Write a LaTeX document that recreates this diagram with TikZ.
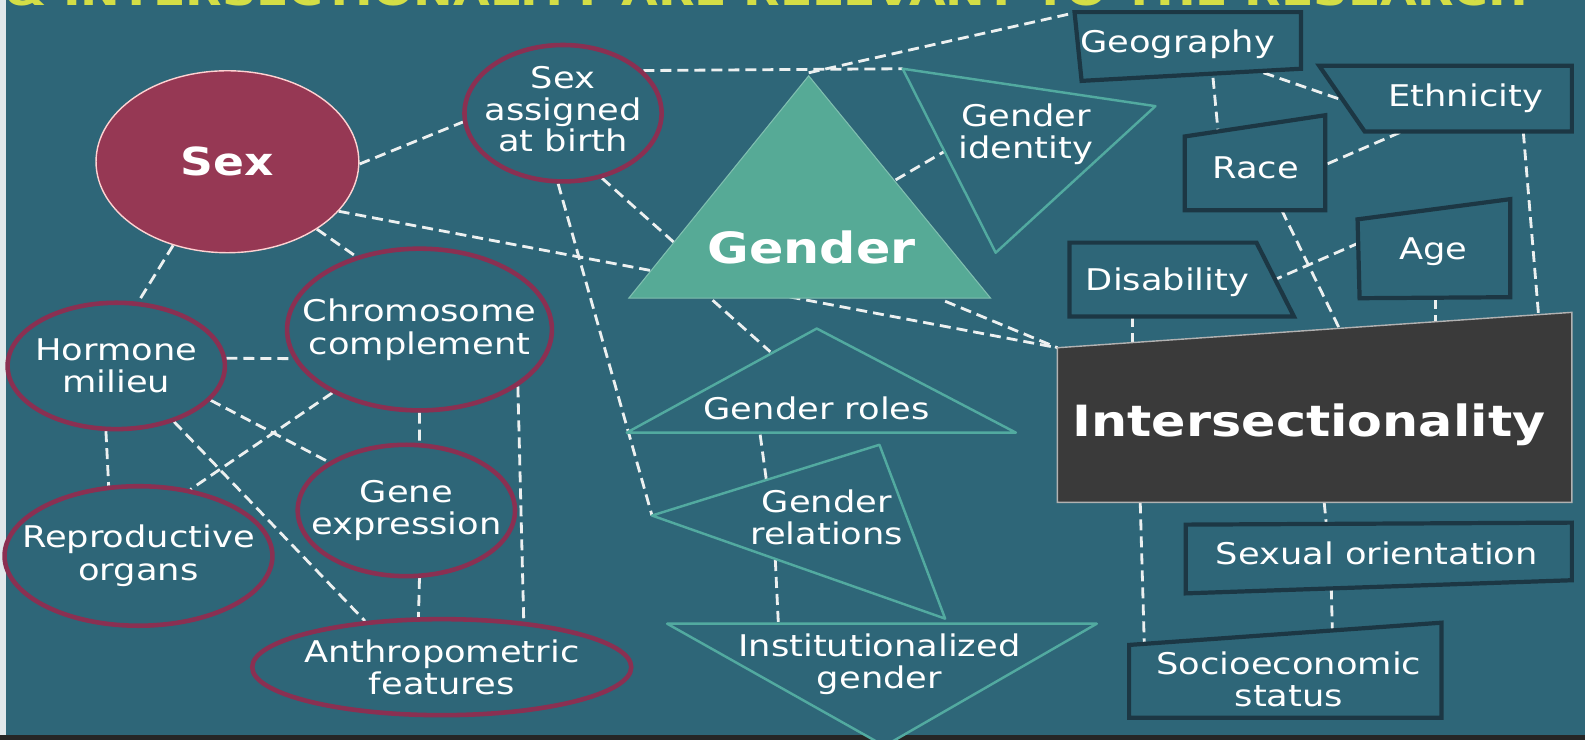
\documentclass[tikz,border=0pt]{standalone}
\usepackage{fontspec}
\setmainfont{DejaVu Sans}[FakeStretch=1.18]
\usepackage{tikz}
\usetikzlibrary{positioning, shapes.geometric}
\definecolor{slidebg}{RGB}{46,102,120}
\definecolor{sexred}{RGB}{150,56,84}
\definecolor{plum}{RGB}{138,48,82}
\definecolor{gendergreen}{RGB}{86,170,150}
\definecolor{tealline}{RGB}{82,170,160}
\definecolor{boxline}{RGB}{28,55,68}
\definecolor{interdark}{RGB}{58,58,58}
\definecolor{titleyellow}{RGB}{212,222,70}
\definecolor{dashwhite}{RGB}{236,240,240}
\pgfdeclarelayer{back}
\pgfdeclarelayer{links}
\pgfsetlayers{back,links,main}
\tikzset{%
	sex part/.style 2 args={
		ellipse,
		draw=plum,
		line width=2.6pt,
		fill=slidebg,
		inner sep=0pt,
		minimum width=#1*0.2022mm,
		minimum height=#2*0.2022mm
	},
	label text/.style={
		text=white,
		align=center,
		inner sep=0pt,
		font=\fontsize{17}{18.5}\selectfont
	},
	big text/.style={
		text=white,
		inner sep=0pt,
		font=\bfseries\fontsize{24.5}{28}\selectfont
	},
	factor box/.style={draw=boxline, line width=2.4pt, fill=slidebg, line join=miter},
	gender part/.style={draw=tealline, line width=1.4pt, fill=slidebg, line join=round},
	link/.style={draw=dashwhite, line width=1.6pt, dash pattern=on 2.2mm off 1.2mm},
}

\begin{document}
\begin{tikzpicture}[x=0.2022mm, y=-0.2022mm]
	% slide background
	\begin{pgfonlayer}{back}
		\fill[slidebg] (0,0) rectangle (1568,732);
		\fill[white!85!slidebg] (0,0) rectangle (6,732);
		\fill[black!85] (0,727) rectangle (1568,732);
	\end{pgfonlayer}
	\useasboundingbox (0,0) rectangle (1568,732);
	
	% cut title
	\node[anchor=base west, text=titleyellow, inner sep=0pt, font=\bfseries\fontsize{22.9}{26}\selectfont] (title) at (5,5) {\& INTERSECTIONALITY ARE RELEVANT TO THE RESEARCH};
	
	% Sex side
	\node[ellipse, fill=sexred, draw=pink!70, line width=0.8pt, minimum width=260*0.2022mm, minimum height=180*0.2022mm] (sex) at (225,160) {};
	\node[big text, font=\bfseries\fontsize{22}{26}\selectfont] (sex-t) at (sex) {Sex};
	\node[sex part={195}{135}] (sab) at (557,112) {};
	\node[label text, font=\fontsize{17}{18}\selectfont] (sab-t) at (557,108) {Sex\\assigned\\at birth};
	\node[sex part={215}{125}] (horm) at (115,362) {};
	\node[label text] (horm-t) at (horm) {Hormone\\milieu};
	\node[sex part={262}{160}] (chrom) at (415,326) {};
	\node[label text] (chrom-t) at (chrom) {Chromosome\\complement};
	\node[sex part={215}{130}] (gene) at (402,505) {};
	\node[label text] (gene-t) at (gene) {Gene\\expression};
	\node[sex part={265}{138}] (repro) at (137,550) {};
	\node[label text] (repro-t) at (repro) {Reproductive\\organs};
	\node[sex part={375}{95}] (anthro) at (437,660) {};
	\node[label text] (anthro-t) at (anthro) {Anthropometric\\features};
	
	% Gender side
	\coordinate (gA) at (800,75);
	\coordinate (gL) at (622,295);
	\coordinate (gR) at (980,295);
	\fill[gendergreen, draw=gendergreen!75!white, line width=0.6pt] (gA) -- (gL) -- (gR) -- cycle;
	\node[big text] (gen-t) at (803,245) {Gender};
	
	\coordinate (iA) at (893,68);
	\coordinate (iB) at (1143,105);
	\coordinate (iC) at (985,250);
	\draw[gender part] (iA) -- (iB) -- (iC) -- cycle;
	\node[label text] (ident-t) at (1015,133) {Gender\\identity};
	
	\coordinate (rA) at (808,325);
	\coordinate (rL) at (620,428);
	\coordinate (rR) at (1005,428);
	\draw[gender part] (rA) -- (rL) -- (rR) -- cycle;
	\node[label text] (roles-t) at (808,404) {Gender roles};
	
	\coordinate (lA) at (645,510);
	\coordinate (lB) at (870,440);
	\coordinate (lC) at (935,612);
	\draw[gender part] (lA) -- (lB) -- (lC) -- cycle;
	\node[label text] (rel-t) at (818,512) {Gender\\relations};
	
	\coordinate (nL) at (660,617);
	\coordinate (nR) at (1085,617);
	\coordinate (nB) at (875,738);
	\draw[gender part] (nL) -- (nR) -- (nB) -- cycle;
	\node[label text] (inst-t) at (870,657) {Institutionalized\\gender};
	
	% Intersectionality side
	\draw[factor box] (1063,12) -- (1287,12) -- (1287,68) -- (1070,80) -- cycle;
	\node[label text] (geo-t) at (1165,44) {Geography};
	\draw[factor box] (1305,65) -- (1555,65) -- (1555,130) -- (1350,130) -- cycle;
	\node[label text] (eth-t) at (1450,97) {Ethnicity};
	\draw[factor box] (1172,135) -- (1311,114) -- (1311,208) -- (1172,208) -- cycle;
	\node[label text] (race-t) at (1242,166) {Race};
	\draw[factor box] (1343,217) -- (1494,197) -- (1494,294) -- (1345,295) -- cycle;
	\node[label text] (age-t) at (1418,249) {Age};
	\draw[factor box] (1058,240) -- (1243,240) -- (1280,313) -- (1058,313) -- cycle;
	\node[label text] (dis-t) at (1155,279) {Disability};
	\draw[fill=interdark, draw=gray!60, line width=0.8pt] (1046,344) -- (1555,309) -- (1555,497) -- (1046,497) -- cycle;
	\node[big text] (inter-t) at (1295,420) {Intersectionality};
	\draw[factor box] (1173,519) -- (1555,517) -- (1555,574) -- (1173,587) -- cycle;
	\node[label text] (so-t) at (1362,547) {Sexual orientation};
	\draw[factor box] (1117,638) -- (1426,616) -- (1426,710) -- (1117,710) -- cycle;
	\node[label text] (ses-t) at (1275,672) {Socioeconomic\\status};
	
	% link ends
	\coordinate (g-w) at (667,240);
	\coordinate (g-n) at (800,72);
	\coordinate (g-e) at (886,178);
	\coordinate (g-s1) at (705,297);
	\coordinate (g-s2) at (935,298);
	\coordinate (i-w) at (934,150);
	\coordinate (r-w) at (762,348);
	\coordinate (r-s) at (752,430);
	\coordinate (l-n) at (758,474);
	\coordinate (l-s) at (767,554);
	\coordinate (n-n) at (770,617);
	\coordinate (geo-nw) at (1066,12);
	\coordinate (geo-s) at (1200,77);
	\coordinate (geo-se) at (1250,72);
	\coordinate (eth-w) at (1325,98);
	\coordinate (eth-s) at (1385,131);
	\coordinate (eth-se) at (1507,131);
	\coordinate (race-n) at (1205,130);
	\coordinate (race-e) at (1311,163);
	\coordinate (race-s) at (1268,208);
	\coordinate (age-w) at (1345,240);
	\coordinate (age-s) at (1420,295);
	\coordinate (dis-e) at (1258,278);
	\coordinate (dis-s) at (1120,313);
	\coordinate (it-nw) at (1046,344);
	\coordinate (it-n1) at (1120,339);
	\coordinate (it-n2) at (1325,325);
	\coordinate (it-n3) at (1420,318);
	\coordinate (it-n4) at (1522,311);
	\coordinate (it-s1) at (1128,497);
	\coordinate (it-s2) at (1310,497);
	\coordinate (so-n) at (1312,518);
	\coordinate (so-s) at (1317,582);
	\coordinate (ses-n1) at (1132,637);
	\coordinate (ses-n2) at (1318,622);
	
	% Dashed links
	\begin{pgfonlayer}{links}
		\draw[link] (sex.-1) -- (sab.185);
		\draw[link] (sex.-24) -- (it-nw);
		\draw[link] (sex.-37) -- (chrom.131);
		\draw[link] (sex.237) -- (horm.71);
		\draw[link] (horm.4) -- (chrom.193);
		\draw[link] (horm.-20) -- (gene.148);
		\draw[link] (horm.261) -- (repro.113);
		\draw[link] (horm.-44) -- (anthro.149);
		\draw[link] (chrom.216) -- (repro.52);
		\draw[link] (chrom.-90) -- (gene.79);
		\draw[link] (chrom.-30) -- (anthro.29);
		\draw[link] (gene.-79) -- (anthro.115);
		\draw[link] (sab.-59) -- (g-w);
		\draw[link] (sab.266) -- (lA);
		\draw[link] (sab.28) -- (iA);
		\draw[link] (g-n) -- (geo-nw);
		\draw[link] (g-e) -- (i-w);
		\draw[link] (g-s2) -- (it-nw);
		\draw[link] (g-s1) -- (r-w);
		\draw[link] (r-s) -- (l-n);
		\draw[link] (l-s) -- (n-n);
		\draw[link] (geo-s) -- (race-n);
		\draw[link] (geo-se) -- (eth-w);
		\draw[link] (eth-s) -- (race-e);
		\draw[link] (eth-se) -- (it-n4);
		\draw[link] (race-s) -- (it-n2);
		\draw[link] (age-w) -- (dis-e);
		\draw[link] (age-s) -- (it-n3);
		\draw[link] (dis-s) -- (it-n1);
		\draw[link] (it-s2) -- (so-n);
		\draw[link] (it-s1) -- (ses-n1);
		\draw[link] (so-s) -- (ses-n2);
	\end{pgfonlayer}
\end{tikzpicture}
\end{document}
